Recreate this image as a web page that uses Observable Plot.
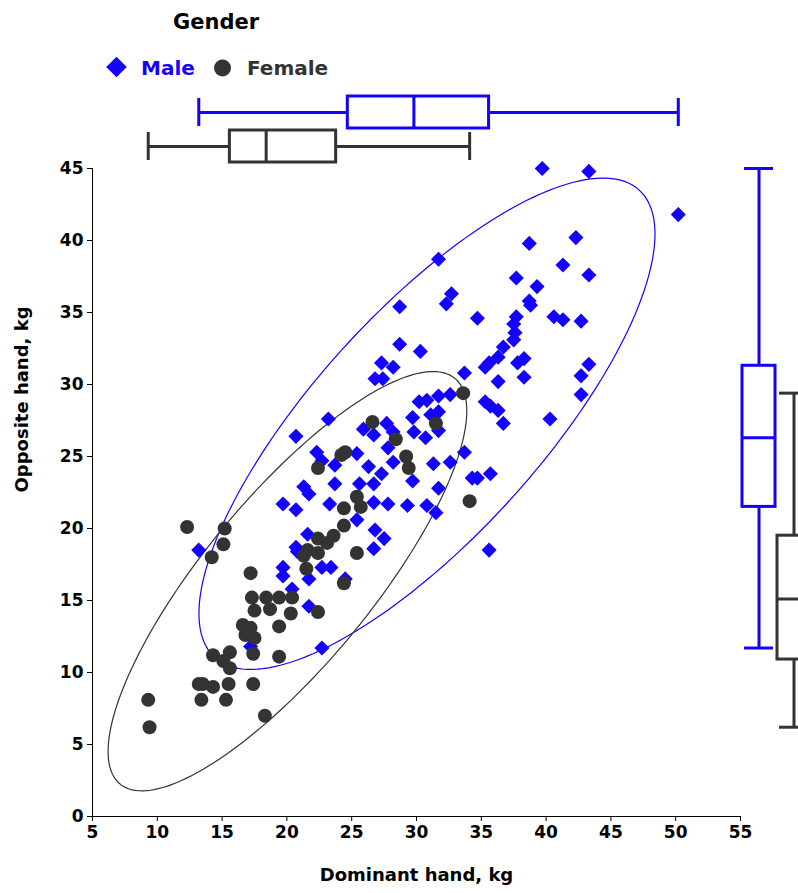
<!DOCTYPE html>
<html><head><meta charset="utf-8">
<script src="https://cdn.jsdelivr.net/npm/d3@7"></script>
<script src="https://cdn.jsdelivr.net/npm/@observablehq/plot@0.6"></script>
<style>
body{margin:0;background:#fff;}
#wrap{position:relative;width:798px;height:893px;overflow:hidden;background:#fff;}
#wrap svg{overflow:visible;max-width:none;position:absolute;}
</style></head><body><div id="wrap"></div>
<script>
const BLUE = "#1400ff", GRAY = "#333333";
const FONT = "DejaVu Sans, Liberation Sans, Arial, sans-serif";
const genders = ["Male", "Female"];
const xTicks = [5,10,15,20,25,30,35,40,45,50,55];
const yTicks = [0,5,10,15,20,25,30,35,40,45];
const xLabel = "Dominant hand, kg";
const yLabel = "Opposite hand, kg";
const legendTitle = "Gender";

const maleDominant = [39.7,43.3,50.2,42.3,38.7,31.7,41.3,43.3,37.7,39.3,
 32.7,32.3,38.7,38.8,28.7,34.7,40.6,41.3,42.7,37.7,
 37.5,37.6,37.5,36.7,36.3,35.6,35.3,37.8,38.3,33.7,
 36.3,38.3,43.3,42.7,42.7,28.7,30.3,27.3,28.2,26.8,
 27.4,31.7,32.6,30.2,30.8,29.7,31.1,31.7,35.3,35.7,
 36.3,36.7,40.3,23.2,27.7,25.9,26.7,28.2,29.8,30.7,
 31.7,20.7,22.3,22.7,23.7,27.8,33.7,25.4,28.2,31.3,
 32.6,26.3,27.3,29.7,34.3,34.7,35.7,31.7,21.3,21.7,
 23.7,25.6,26.7,23.3,19.7,20.7,26.7,27.8,29.3,30.8,
 31.5,25.4,26.8,27.5,26.7,21.6,20.7,20.8,19.7,19.7,
 22.7,23.4,21.7,24.5,20.4,21.7,17.2,22.7,13.2,35.6];
const maleOpposite = [45.0,44.8,41.8,40.2,39.8,38.7,38.3,37.6,37.4,36.8,
 36.3,35.6,35.8,35.5,35.4,34.6,34.7,34.5,34.4,34.7,
 34.2,33.6,33.1,32.6,31.9,31.5,31.2,31.5,31.8,30.8,
 30.2,30.5,31.4,30.6,29.3,32.8,32.3,31.5,31.2,30.4,
 30.4,29.2,29.3,28.8,28.9,27.7,27.9,28.1,28.8,28.5,
 28.2,27.3,27.6,27.6,27.3,26.9,26.5,26.7,26.7,26.3,
 26.8,26.4,25.3,24.7,24.4,25.6,25.3,25.2,24.6,24.5,
 24.6,24.3,23.8,23.3,23.5,23.5,23.8,22.8,22.9,22.4,
 23.1,23.1,23.1,21.7,21.7,21.3,21.8,21.7,21.6,21.6,
 21.1,20.6,19.9,19.3,18.6,19.6,18.7,18.4,17.3,16.7,
 17.3,17.3,16.5,16.5,15.8,14.6,11.8,11.7,18.5,18.5];
const femaleDominant = [26.6,28.4,24.5,24.2,22.4,29.2,29.4,33.6,31.5,34.1,
 25.4,25.7,25.4,24.4,24.4,22.4,23.1,23.6,21.6,21.3,
 22.4,21.5,17.2,24.4,17.3,18.4,19.4,20.4,17.5,18.7,
 20.3,16.6,17.2,16.8,17.5,19.4,22.4,14.3,15.6,15.1,
 15.6,17.4,19.4,13.2,13.5,14.3,15.5,17.4,9.3,13.4,
 15.3,9.4,18.3,12.3,15.2,15.1,14.2];
const femaleOpposite = [27.4,26.2,25.3,25.1,24.2,25.0,24.2,29.4,27.3,21.9,
 22.2,21.5,18.3,21.4,20.2,19.3,19.0,19.5,18.5,18.1,
 18.3,17.2,16.9,16.2,15.2,15.2,15.2,15.2,14.3,14.4,
 14.1,13.3,13.1,12.6,12.4,13.2,14.2,11.2,11.4,10.8,
 10.3,11.3,11.1,9.2,9.2,9.0,9.2,9.2,8.1,8.1,
 8.1,6.2,7.0,20.1,20.0,18.9,18.0];

// marginal box plot statistics (min, q1, median, q3, max) per gender
const boxDominant = {Male: [13.2, 24.7, 29.8, 35.6, 50.2], Female: [9.3, 15.6, 18.4, 23.8, 34.1]};
const boxOpposite = {Male: [11.7, 21.5, 26.3, 31.3, 45.0], Female: [6.2, 10.9, 15.1, 19.5, 29.4]};

const male = maleDominant.map((x, i) => ({x, y: maleOpposite[i]}));
const female = femaleDominant.map((x, i) => ({x, y: femaleOpposite[i]}));

function ellipse(pts, n = 180) {
  const mx = d3.mean(pts, d => d.x), my = d3.mean(pts, d => d.y);
  let sxx = 0, syy = 0, sxy = 0;
  for (const p of pts) { sxx += (p.x - mx) ** 2; syy += (p.y - my) ** 2; sxy += (p.x - mx) * (p.y - my); }
  const m = pts.length - 1; sxx /= m; syy /= m; sxy /= m;
  const a = Math.sqrt(sxx), b = sxy / a, c = Math.sqrt(syy - b * b), k = Math.sqrt(5.991);
  return d3.range(n + 1).map(i => { const t = 2 * Math.PI * i / n;
    return {x: mx + k * a * Math.cos(t), y: my + k * (b * Math.cos(t) + c * Math.sin(t))}; });
}

const boxRows = src => genders.map(g => ({gender: g, min: src[g][0], q1: src[g][1], med: src[g][2], q3: src[g][3], max: src[g][4]}));
const color = {domain: genders, range: [BLUE, GRAY]};
const wrap = document.getElementById("wrap");

const main = Plot.plot({
  width: 798, height: 893,
  marginTop: 168, marginBottom: 77, marginLeft: 92, marginRight: 58,
  style: {fontFamily: FONT, fontSize: "17px", fontWeight: "bold", color: "#000", background: "transparent"},
  x: {domain: [5, 55], ticks: xTicks, tickSize: 5, tickPadding: 4, label: null},
  y: {domain: [0, 45], ticks: yTicks, tickSize: 5, tickPadding: 4, label: null},
  marks: [
    Plot.ruleX([5], {stroke: "#000"}),
    Plot.ruleY([0], {stroke: "#000"}),
    Plot.line(ellipse(male), {x: "x", y: "y", stroke: BLUE, strokeWidth: 1.2}),
    Plot.line(ellipse(female), {x: "x", y: "y", stroke: GRAY, strokeWidth: 1.2}),
    Plot.dot(male, {x: "x", y: "y", symbol: "diamond2", r: 6.8, fill: BLUE}),
    Plot.dot(female, {x: "x", y: "y", symbol: "circle", r: 7, fill: GRAY}),
    Plot.text([xLabel], {frameAnchor: "bottom", dy: 64, text: d => d, fontSize: 18, fontWeight: "bold", fill: "#000"}),
    Plot.text([yLabel], {frameAnchor: "left", dx: -70, rotate: -90, text: d => d, fontSize: 18, fontWeight: "bold", fill: "#000"})
  ]
});
main.style.left = "0px"; main.style.top = "0px";
wrap.appendChild(main);

const bx = boxRows(boxDominant);
const topBox = Plot.plot({
  width: 798, height: 76, marginTop: 0, marginBottom: 0, marginLeft: 92, marginRight: 58,
  style: {background: "transparent"},
  x: {domain: [5, 55], axis: null},
  y: {domain: genders, range: [4, 74], padding: 0.05, axis: null},
  color,
  marks: [
    Plot.ruleY(bx, {y: "gender", x1: "min", x2: "q1", stroke: "gender", strokeWidth: 3}),
    Plot.ruleY(bx, {y: "gender", x1: "q3", x2: "max", stroke: "gender", strokeWidth: 3}),
    Plot.tickX(bx, {x: "min", y: "gender", stroke: "gender", strokeWidth: 3, insetTop: 2, insetBottom: 2}),
    Plot.tickX(bx, {x: "max", y: "gender", stroke: "gender", strokeWidth: 3, insetTop: 2, insetBottom: 2}),
    Plot.barX(bx, {x1: "q1", x2: "q3", y: "gender", fill: "white", stroke: "gender", strokeWidth: 3}),
    Plot.tickX(bx, {x: "med", y: "gender", stroke: "gender", strokeWidth: 3})
  ]
});
topBox.style.left = "0px"; topBox.style.top = "90px";
wrap.appendChild(topBox);

const by = boxRows(boxOpposite);
const rightBox = Plot.plot({
  width: 58, height: 893, marginTop: 168, marginBottom: 77, marginLeft: 0, marginRight: 0,
  style: {background: "transparent"},
  y: {domain: [0, 45], axis: null},
  x: {domain: genders, range: [0.5, 72.5], padding: 0.05, axis: null},
  color,
  marks: [
    Plot.ruleX(by, {x: "gender", y1: "min", y2: "q1", stroke: "gender", strokeWidth: 3}),
    Plot.ruleX(by, {x: "gender", y1: "q3", y2: "max", stroke: "gender", strokeWidth: 3}),
    Plot.tickY(by, {y: "min", x: "gender", stroke: "gender", strokeWidth: 3, insetLeft: 2, insetRight: 2}),
    Plot.tickY(by, {y: "max", x: "gender", stroke: "gender", strokeWidth: 3, insetLeft: 2, insetRight: 2}),
    Plot.barY(by, {y1: "q1", y2: "q3", x: "gender", fill: "white", stroke: "gender", strokeWidth: 3}),
    Plot.tickY(by, {y: "med", x: "gender", stroke: "gender", strokeWidth: 3})
  ]
});
rightBox.style.left = "740px"; rightBox.style.top = "0px";
wrap.appendChild(rightBox);

// legend
const leg = d3.create("svg").attr("width", 400).attr("height", 90)
  .style("left", "0px").style("top", "0px").style("font-family", FONT).style("font-weight", "bold");
leg.append("text").attr("x", 173).attr("y", 29).attr("font-size", 21).attr("fill", "#000").text(legendTitle);
leg.append("path").attr("d", d3.symbol(d3.symbolDiamond2, 270)()).attr("transform", "translate(116.5,67)").attr("fill", BLUE);
leg.append("text").attr("x", 141).attr("y", 75).attr("font-size", 20).attr("fill", BLUE).text(genders[0]);
leg.append("path").attr("d", d3.symbol(d3.symbolCircle, 227)()).attr("transform", "translate(222.5,68)").attr("fill", GRAY);
leg.append("text").attr("x", 247).attr("y", 75).attr("font-size", 20).attr("fill", GRAY).text(genders[1]);
wrap.appendChild(leg.node());
</script></body></html>
